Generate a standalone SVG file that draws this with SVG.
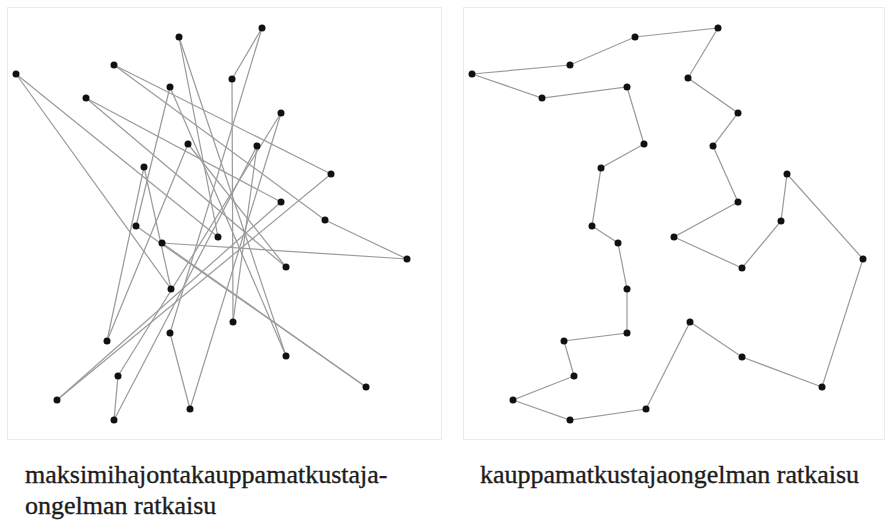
<svg xmlns="http://www.w3.org/2000/svg" width="885" height="520" viewBox="0 0 885 520">
  <style>
    .frame { fill: #ffffff; stroke: #ebebeb; stroke-width: 1; }
    .edge { stroke: #9c9c9c; stroke-width: 1.25; fill: none; stroke-linecap: round; }
    .city { fill: #111111; }
    .caption { font-family: "Liberation Serif", "Times New Roman", serif; font-size: 26px; fill: #1c1c1c; stroke: #1c1c1c; stroke-width: 0.35; }
  </style>
  <defs>
    <circle id="dot" r="3.5"/>
  </defs>
  <rect width="885" height="520" fill="#ffffff"/>

  <!-- Left panel: longest-tour solution -->
  <rect class="frame" x="7.5" y="7.5" width="434" height="432"/>
  <g id="left-connectors" class="edge">
    <polyline points="16,74 171,289"/>
    <polyline points="16,74 218,237"/>
    <polyline points="179,37 218,237"/>
    <polyline points="179,37 286,356"/>
    <polyline points="262,28 232,79"/>
    <polyline points="262,28 170,333"/>
    <polyline points="114,65 331,174"/>
    <polyline points="114,65 325,220"/>
    <polyline points="232,79 233,322"/>
    <polyline points="325,220 407,259"/>
    <polyline points="162,243 407,259"/>
    <polyline points="162,243 366,387"/>
    <polyline points="136,226 366,387"/>
    <polyline points="144,167 171,289"/>
    <polyline points="144,167 107,341"/>
    <polyline points="331,174 57,400"/>
    <polyline points="281,202 57,400"/>
    <polyline points="86,98 281,202"/>
    <polyline points="86,98 286,267"/>
    <polyline points="281,113 190,409"/>
    <polyline points="170,333 190,409"/>
    <polyline points="170,87 286,356"/>
    <polyline points="188,144 286,267"/>
    <polyline points="257,146 233,322"/>
    <polyline points="170,87 136,226"/>
    <polyline points="281,113 118,376"/>
    <polyline points="257,146 114,420"/>
    <polyline points="188,144 107,341"/>
    <polyline points="118,376 114,420"/>
  </g>
  <g id="left-cities" class="city">
    <use id="l01" href="#dot" x="16" y="74"/>
    <use id="l02" href="#dot" x="179" y="37"/>
    <use id="l03" href="#dot" x="262" y="28"/>
    <use id="l04" href="#dot" x="114" y="65"/>
    <use id="l05" href="#dot" x="232" y="79"/>
    <use id="l06" href="#dot" x="170" y="87"/>
    <use id="l07" href="#dot" x="86" y="98"/>
    <use id="l08" href="#dot" x="281" y="113"/>
    <use id="l09" href="#dot" x="188" y="144"/>
    <use id="l10" href="#dot" x="257" y="146"/>
    <use id="l11" href="#dot" x="144" y="167"/>
    <use id="l12" href="#dot" x="331" y="174"/>
    <use id="l13" href="#dot" x="281" y="202"/>
    <use id="l14" href="#dot" x="325" y="220"/>
    <use id="l15" href="#dot" x="136" y="226"/>
    <use id="l16" href="#dot" x="162" y="243"/>
    <use id="l17" href="#dot" x="218" y="237"/>
    <use id="l18" href="#dot" x="407" y="259"/>
    <use id="l19" href="#dot" x="286" y="267"/>
    <use id="l20" href="#dot" x="171" y="289"/>
    <use id="l21" href="#dot" x="233" y="322"/>
    <use id="l22" href="#dot" x="170" y="333"/>
    <use id="l23" href="#dot" x="107" y="341"/>
    <use id="l24" href="#dot" x="286" y="356"/>
    <use id="l25" href="#dot" x="118" y="376"/>
    <use id="l26" href="#dot" x="366" y="387"/>
    <use id="l27" href="#dot" x="57" y="400"/>
    <use id="l28" href="#dot" x="190" y="409"/>
    <use id="l29" href="#dot" x="114" y="420"/>
  </g>

  <!-- Right panel: shortest-tour solution -->
  <rect class="frame" x="463.5" y="7.5" width="421" height="432"/>
  <g id="right-connectors" class="edge">
    <polygon points="472,74 570,65 635,37 718,28 688,78 738,113 713,146 738,202 674,237 742,268 781,221 787,174 863,259 822,387 742,357 690,322 646,409 570,420 513,400 574,376 564,341 627,333 627,289 618,243 592,226 601,168 644,144 627,87 542,98"/>
  </g>
  <g id="right-cities" class="city">
    <use id="r01" href="#dot" x="472" y="74"/>
    <use id="r02" href="#dot" x="570" y="65"/>
    <use id="r03" href="#dot" x="635" y="37"/>
    <use id="r04" href="#dot" x="718" y="28"/>
    <use id="r05" href="#dot" x="688" y="78"/>
    <use id="r06" href="#dot" x="738" y="113"/>
    <use id="r07" href="#dot" x="713" y="146"/>
    <use id="r08" href="#dot" x="738" y="202"/>
    <use id="r09" href="#dot" x="674" y="237"/>
    <use id="r10" href="#dot" x="742" y="268"/>
    <use id="r11" href="#dot" x="781" y="221"/>
    <use id="r12" href="#dot" x="787" y="174"/>
    <use id="r13" href="#dot" x="863" y="259"/>
    <use id="r14" href="#dot" x="822" y="387"/>
    <use id="r15" href="#dot" x="742" y="357"/>
    <use id="r16" href="#dot" x="690" y="322"/>
    <use id="r17" href="#dot" x="646" y="409"/>
    <use id="r18" href="#dot" x="570" y="420"/>
    <use id="r19" href="#dot" x="513" y="400"/>
    <use id="r20" href="#dot" x="574" y="376"/>
    <use id="r21" href="#dot" x="564" y="341"/>
    <use id="r22" href="#dot" x="627" y="333"/>
    <use id="r23" href="#dot" x="627" y="289"/>
    <use id="r24" href="#dot" x="618" y="243"/>
    <use id="r25" href="#dot" x="592" y="226"/>
    <use id="r26" href="#dot" x="601" y="168"/>
    <use id="r27" href="#dot" x="644" y="144"/>
    <use id="r28" href="#dot" x="627" y="87"/>
    <use id="r29" href="#dot" x="542" y="98"/>
  </g>

  <!-- Captions -->
  <g id="captions" class="caption">
    <text x="25" y="483">maksimihajontakauppamatkustaja-</text>
    <text x="25" y="514">ongelman ratkaisu</text>
    <text x="480" y="483">kauppamatkustajaongelman ratkaisu</text>
  </g>
</svg>
